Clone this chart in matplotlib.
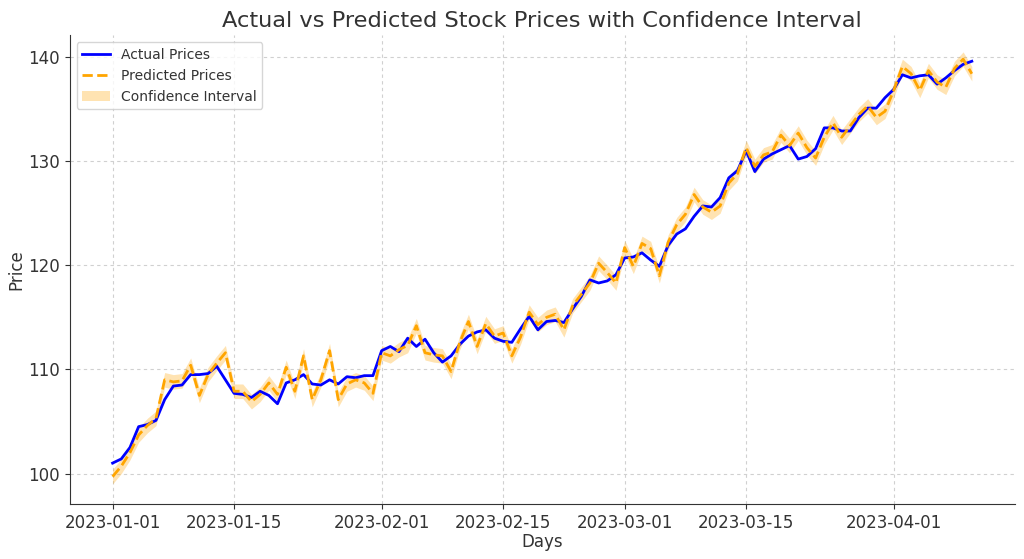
import matplotlib
matplotlib.use("Agg")
import matplotlib.pyplot as plt
import matplotlib.dates as mdates
import numpy as np
import pandas as pd

dates = pd.date_range("2023-01-01", periods=100, freq="D")

actual = [
    101.0, 101.4, 102.5, 104.5, 104.7, 105.1, 107.1, 108.4, 108.5, 109.5,
    109.5, 109.6, 110.3, 109.0, 107.7, 107.6, 107.3, 107.9, 107.5, 106.7,
    108.7, 109.0, 109.5, 108.6, 108.5, 109.0, 108.6, 109.3, 109.2, 109.4,
    109.4, 111.8, 112.2, 111.7, 113.0, 112.2, 112.9, 111.6, 110.7, 111.3,
    112.4, 113.2, 113.6, 113.8, 113.0, 112.7, 112.6, 113.9, 115.1, 113.8,
    114.6, 114.7, 114.5, 115.8, 117.0, 118.6, 118.3, 118.5, 119.1, 120.7,
    120.8, 121.2, 120.5, 119.9, 121.9, 123.0, 123.5, 124.7, 125.7, 125.6,
    126.5, 128.4, 129.1, 131.0, 129.0, 130.2, 130.7, 131.1, 131.5, 130.2,
    130.45, 131.2, 133.2, 133.2, 132.9, 132.9, 134.2, 135.1, 135.1, 136.1,
    136.9, 138.3, 138.0, 138.2, 138.3, 137.4, 138.0, 138.7, 139.3, 139.6,
]

predicted = [
    99.7, 100.7, 102.0, 103.7, 104.6, 105.3, 109.0, 108.8, 108.9, 110.4,
    107.5, 109.5, 110.6, 111.6, 107.9, 107.9, 106.9, 107.6, 108.7, 107.6,
    110.2, 107.9, 111.3, 107.1, 109.0, 111.8, 107.1, 108.6, 109.0, 108.7,
    107.7, 111.6, 111.3, 111.9, 112.3, 114.2, 111.6, 111.4, 111.3, 109.8,
    112.6, 114.6, 112.2, 114.4, 113.2, 113.5, 111.3, 113.1, 115.5, 114.3,
    115.0, 115.3, 113.8, 116.1, 117.2, 118.3, 120.2, 119.3, 118.3, 121.7,
    119.9, 122.1, 121.6, 119.0, 122.2, 123.9, 124.9, 126.8, 125.6, 125.1,
    125.7, 127.9, 128.8, 131.3, 129.5, 130.6, 130.9, 132.5, 131.5, 132.7,
    131.3, 130.3, 132.3, 133.7, 132.3, 133.4, 134.5, 135.3, 134.2, 134.8,
    136.8, 139.1, 138.4, 136.8, 138.7, 137.6, 137.1, 138.9, 139.8, 138.4,
]

ci_half = 0.7
lower = np.array(predicted) - ci_half
upper = np.array(predicted) + ci_half

tick_dates = pd.to_datetime(["2023-01-01", "2023-01-15", "2023-02-01", "2023-02-15",
                             "2023-03-01", "2023-03-15", "2023-04-01"])

text_color = "#333333"

fig = plt.figure(figsize=(10.24, 5.59), dpi=100)
ax = fig.add_axes([0.068, 0.098, 0.923, 0.839])

ax.plot(dates, actual, color="blue", linewidth=2, label="Actual Prices", zorder=3)
ax.plot(dates, predicted, color="orange", linestyle="--", linewidth=2,
        label="Predicted Prices", zorder=4)
ax.fill_between(dates, lower, upper, color="orange", alpha=0.3,
                linewidth=0, label="Confidence Interval", zorder=2)

ax.set_title("Actual vs Predicted Stock Prices with Confidence Interval",
             fontsize=16.2, color=text_color, pad=6)
ax.set_xlabel("Days", fontsize=12, color=text_color, labelpad=1)
ax.set_ylabel("Price", fontsize=12, color=text_color, labelpad=2)

ax.set_xticks(tick_dates)
ax.xaxis.set_major_formatter(mdates.DateFormatter("%Y-%m-%d"))
ax.set_yticks([100, 110, 120, 130, 140])
ax.set_ylim(97.05, 142.1)
ax.tick_params(labelsize=12, colors=text_color)
ax.tick_params(axis="both", color="#333333")

ax.grid(True, linestyle=(0, (3, 3)), color="#d0d0d0", linewidth=0.8)
ax.spines["top"].set_visible(False)
ax.spines["right"].set_visible(False)
ax.spines["left"].set_color("#333333")
ax.spines["bottom"].set_color("#333333")

leg = ax.legend(loc="upper left", fontsize=10, frameon=True)
for t in leg.get_texts():
    t.set_color(text_color)

fig.savefig("out.png", dpi=100)
